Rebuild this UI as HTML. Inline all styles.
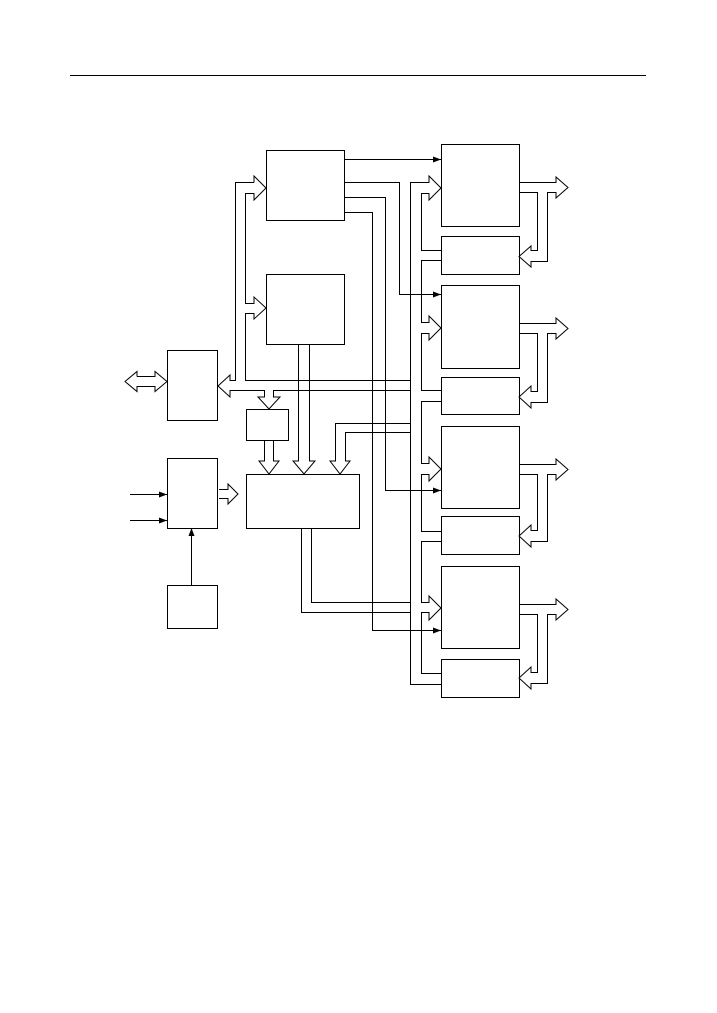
<!DOCTYPE html>
<html><head><meta charset="utf-8"><style>html,body{margin:0;padding:0;background:#fff}svg{display:block}</style></head>
<body>
<svg width="717" height="1013" viewBox="0 0 717 1013" xmlns="http://www.w3.org/2000/svg">
<defs><marker id="a" markerWidth="8" markerHeight="6" refX="8" refY="3" orient="auto" markerUnits="userSpaceOnUse"><path d="M0,0 L8,3 L0,6 Z" fill="#000"/></marker></defs>
<g fill="none" stroke="#000" stroke-width="1">
<line x1="70" y1="75.5" x2="646" y2="75.5"/>
<!-- boxes -->
<rect x="266.5" y="150.5" width="78" height="70"/>
<rect x="266.5" y="274.5" width="78" height="70"/>
<rect x="167.5" y="350.5" width="50" height="70"/>
<rect x="246.5" y="409.5" width="42" height="31"/>
<rect x="167.5" y="458.5" width="50" height="70"/>
<rect x="167.5" y="585.5" width="50" height="43"/>
<rect x="246.5" y="474.5" width="113" height="54"/>
<rect x="441.5" y="144.5" width="78" height="82"/>
<rect x="441.5" y="236.5" width="78" height="38"/>
<rect x="441.5" y="285.5" width="78" height="83"/>
<rect x="441.5" y="377.5" width="78" height="37"/>
<rect x="441.5" y="426.5" width="78" height="82"/>
<rect x="441.5" y="516.5" width="78" height="38"/>
<rect x="441.5" y="566.5" width="78" height="82"/>
<rect x="441.5" y="659.5" width="78" height="38"/>

<!-- filled arrows -->
<line x1="344" y1="159.5" x2="441" y2="159.5" marker-end="url(#a)"/>
<polyline points="344,182.5 399.5,182.5 399.5,294.5 441,294.5" marker-end="url(#a)"/>
<polyline points="344,197.5 385.5,197.5 385.5,490.5 441,490.5" marker-end="url(#a)"/>
<polyline points="344,212.5 372.5,212.5 372.5,630.5 441,630.5" marker-end="url(#a)"/>
<line x1="130" y1="494.5" x2="167" y2="494.5" marker-end="url(#a)"/>
<line x1="130" y1="520.5" x2="167" y2="520.5" marker-end="url(#a)"/>
<line x1="191.5" y1="585" x2="191.5" y2="528" marker-end="url(#a)"/>

<!-- left double arrow -->
<polyline points="137,376.5 155,376.5 155,371.5 167,381.5 155,391.5 155,386.5 137,386.5 137,391.5 125,381.5 137,371.5 137,376.5"/>

<!-- left bus -->
<polyline points="254,182.5 235.5,182.5 235.5,380.5 230,380.5 230,375 218,386 230,397 230,390.5 264.5,390.5 264.5,397 258,397 269,409 280,397 273.5,397 273.5,390.5 410,390.5"/>
<polyline points="254,182.5 254,176 266,188 254,200 254,193.5 245.5,193.5 245.5,303.5 254,303.5 254,297 266,308 254,319 254,313.5 245.5,313.5 245.5,380.5 410,380.5"/>
<!-- B bus down -->
<polyline points="298.5,344 298.5,461 293,461 304,474 315,461 309.5,461 309.5,344"/>
<polyline points="264.5,440 264.5,461 259,461 269,474 279,461 273.5,461 273.5,440"/>
<polyline points="410,423.5 335.5,423.5 335.5,461 330,461 340,474 350,461 345.5,461 345.5,432.5 410,432.5"/>
<!-- L2 out -->
<polyline points="219,489.5 228,489.5 228,484 238,494 228,504 228,498.5 219,498.5"/>
<!-- big box bottom -->
<polyline points="311.5,528 311.5,602.5 410,602.5"/>
<polyline points="301.5,528 301.5,612.5 410,612.5"/>

<!-- right bus -->
<polyline points="429,182.5 410.5,182.5 410.5,684.5 441,684.5"/>
<!-- R1 in -->
<polyline points="410.5,182.5 429,182.5 429,176 441,188 429,200 429,193.5 421.5,193.5 421.5,250.5 441,250.5"/>
<!-- R2 -->
<polyline points="441,260.5 421.5,260.5 421.5,322.5 429,322.5 429,316 441,328 429,340 429,333.5 421.5,333.5 421.5,390.5 441,390.5"/>
<line x1="421" y1="294.5" x2="441" y2="294.5"/>
<!-- R3 -->
<polyline points="441,401.5 421.5,401.5 421.5,463.5 429,463.5 429,457 441,469 429,481 429,474.5 421.5,474.5 421.5,531.5 441,531.5"/>
<!-- R4 -->
<polyline points="441,541.5 421.5,541.5 421.5,602.5 429,602.5 429,596 441,608 429,620 429,612.5 421.5,612.5 421.5,673.5 441,673.5"/>

<!-- output arrows -->
<g id="o">
<polyline points="519,182.5 556,182.5 556,177 568,187.5 556,198 556,192.5 547.5,192.5 547.5,261.5 531,261.5 531,267 519,256.5 531,246 531,250.5 537.5,250.5 537.5,192.5 519,192.5"/>
</g>
<polyline points="519,323.5 556,323.5 556,318 568,328.5 556,339 556,333.5 547.5,333.5 547.5,402.5 531,402.5 531,408 519,397 531,386 531,391.5 537.5,391.5 537.5,333.5 519,333.5"/>
<polyline points="519,464.5 556,464.5 556,459 568,469.5 556,480 556,474.5 547.5,474.5 547.5,541.5 531,541.5 531,547 519,536 531,525 531,530.5 537.5,530.5 537.5,474.5 519,474.5"/>
<polyline points="519,604.5 556,604.5 556,599 568,609.5 556,620 556,614.5 547.5,614.5 547.5,683.5 531,683.5 531,689 519,678 531,667 531,672.5 537.5,672.5 537.5,614.5 519,614.5"/>
</g>
</svg>
</body></html>
